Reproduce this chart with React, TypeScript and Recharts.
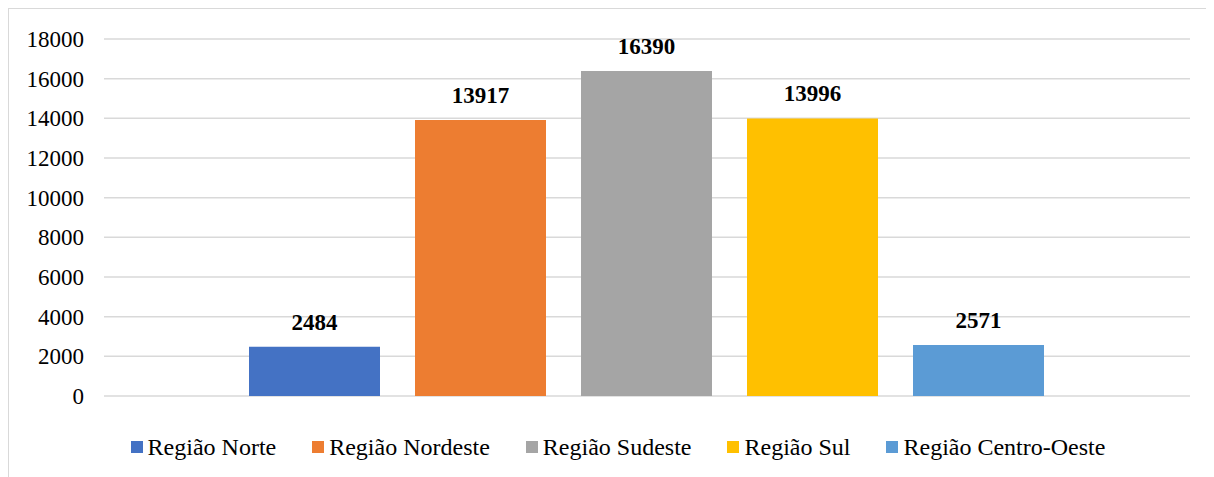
import React from 'react';
import { BarChart, Bar, XAxis, YAxis, CartesianGrid, Legend, LabelList } from 'recharts';

const categories = ['2019'];
const seriesNames = ['Região Norte', 'Região Nordeste', 'Região Sudeste', 'Região Sul', 'Região Centro-Oeste'];
const seriesValues = [2484, 13917, 16390, 13996, 2571];
const seriesColors = ['#4472C4', '#ED7D31', '#A5A5A5', '#FFC000', '#5B9BD5'];
const yTicks = [0, 2000, 4000, 6000, 8000, 10000, 12000, 14000, 16000, 18000];

const data = categories.map((c) => {
  const row: Record<string, string | number> = { name: c };
  seriesNames.forEach((s, i) => {
    row[s] = seriesValues[i];
  });
  return row;
});

const FONT = 'Liberation Serif';

const renderLegend = () => (
  <div style={{ display: 'flex', justifyContent: 'center', fontFamily: FONT, fontSize: 24, color: '#000', lineHeight: '26px' }}>
    {seriesNames.map((s, i) => (
      <div key={s} style={{ display: 'flex', alignItems: 'center', marginRight: i < seriesNames.length - 1 ? 36 : 0 }}>
        <div style={{ width: 12, height: 12, background: seriesColors[i], marginRight: 5 }} />
        <span>{s}</span>
      </div>
    ))}
  </div>
);

export default function App() {
  return (
    <div style={{ position: 'relative', width: 1206, height: 469, borderLeft: '1.5px solid #d9d9d9', borderTop: '1.5px solid #d9d9d9', overflow: 'visible' }}>
      <div style={{ position: 'absolute', top: -25, left: 580, fontFamily: FONT, fontSize: 23, color: '#000', lineHeight: 'normal' }}>{categories[0]}</div>
      <BarChart
        width={1206}
        height={469}
        data={data}
        margin={{ top: 30, right: 25, left: 0, bottom: 56 }}
        barCategoryGap={145}
        barGap={35}
      >
        <CartesianGrid vertical={false} stroke="#d9d9d9" strokeWidth={1.5} />
        <XAxis dataKey="name" hide />
        <YAxis
          width={95}
          domain={[0, 18000]}
          ticks={yTicks}
          interval={0}
          axisLine={false}
          tickLine={false}
          tickSize={0}
          tickMargin={20}
          tick={{ fontFamily: FONT, fontSize: 23, fill: '#000' }}
        />
        <Legend verticalAlign="bottom" content={renderLegend} wrapperStyle={{ bottom: 18, left: 6, width: 1206 }} />
        {seriesNames.map((s, i) => (
          <Bar key={s} dataKey={s} fill={seriesColors[i]} isAnimationActive={false}>
            <LabelList
              dataKey={s}
              position="top"
              offset={17}
              fontFamily={FONT}
              fontSize={23}
              fontWeight="bold"
              fill="#000"
            />
          </Bar>
        ))}
      </BarChart>
    </div>
  );
}
